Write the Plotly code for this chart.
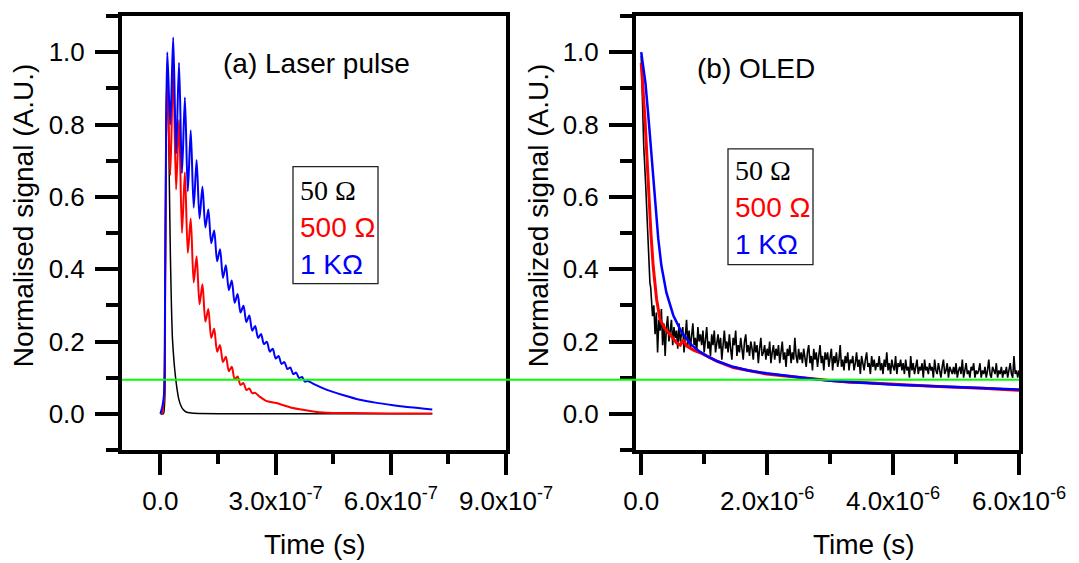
import numpy as np
import plotly.graph_objects as go

# ---------------- Panel (a): laser pulse, time in ns ----------------
black_a_t = [0, 8, 12, 15, 18, 21, 23.5, 26, 28.5, 31, 34, 37, 43, 48, 54, 60, 67, 80, 100, 200, 400, 708]
black_a_y = [0.0, 0.0, 0.25, 0.80, 0.97, 0.83, 0.62, 0.44, 0.31, 0.217, 0.165, 0.126, 0.071, 0.04, 0.021,
             0.011, 0.005, 0.002, 0.001, 0.0, 0.0, 0.0]

red_a_t = [5, 10, 12.5, 15, 18, 25.7, 33.3, 40.9, 48.5, 56.2, 63.8, 71.4, 79.0, 86.7, 94.3, 101.9, 109.5,
           117.2, 124.8, 132.4, 140.0, 147.7, 155.3, 162.9, 170.5, 178.2, 185.8, 193.4, 201.0, 208.7, 216.3,
           223.9, 231.5, 239.2, 246.8, 258, 275, 302, 345, 390, 432, 500, 600, 708]
red_a_y = [0.0, 0.05, 0.35, 0.75, 0.93, 0.66, 0.96, 0.62, 0.813, 0.50, 0.668, 0.445, 0.54, 0.363, 0.436,
           0.303, 0.358, 0.255, 0.290, 0.21, 0.235, 0.172, 0.19, 0.143, 0.158, 0.118, 0.130, 0.096, 0.103,
           0.080, 0.085, 0.066, 0.070, 0.057, 0.058, 0.048, 0.036, 0.030, 0.016, 0.008, 0.003, 0.002, 0.001,
           0.001]

blue_a_t = [0, 5, 9, 12.5, 15, 18, 25.7, 33.3, 40.9, 48.5, 56.2, 63.8, 71.4, 79.0, 86.7, 94.3, 101.9,
            109.5, 117.2, 124.8, 132.4, 140.0, 147.7, 155.3, 162.9, 170.5, 178.2, 185.8, 193.4, 201.0,
            208.7, 216.3, 223.9, 231.5, 239.2, 246.8, 254.4, 262.0, 269.7, 277.3, 284.9, 292.5, 300.2,
            307.8, 315.4, 323.0, 330.7, 338.3, 345.9, 353.5, 361.2, 368.8, 376.4, 384.0, 400, 432, 475,
            519, 560, 606, 650, 708]
blue_a_y = [0.0, 0.02, 0.05, 0.40, 0.80, 1.00, 0.80, 1.041, 0.72, 0.971, 0.665, 0.875, 0.615, 0.784,
            0.57, 0.702, 0.54, 0.628, 0.515, 0.565, 0.472, 0.507, 0.422, 0.455, 0.376, 0.411, 0.342,
            0.369, 0.307, 0.331, 0.280, 0.299, 0.254, 0.272, 0.230, 0.243, 0.210, 0.221, 0.193, 0.199,
            0.172, 0.180, 0.153, 0.160, 0.138, 0.143, 0.124, 0.128, 0.110, 0.114, 0.099, 0.102, 0.089,
            0.091, 0.082, 0.067, 0.052, 0.039, 0.031, 0.024, 0.018, 0.012]

# ---------------- Panel (b): OLED, time in µs ----------------
black_b_head_t = [0, 0.02, 0.04, 0.07, 0.10, 0.12, 0.138, 0.15]
black_b_head_y = [0.99, 0.86, 0.74, 0.636, 0.50, 0.40, 0.363, 0.35]
black_b_tail_start = 0.16   # µs, sampled every 0.02 µs
black_b_tail_step = 0.02
black_b_tail_y = [
    0.33, 0.27, 0.30, 0.22, 0.28, 0.17, 0.26, 0.23, 0.29, 0.19, 0.25, 0.16, 0.24, 0.27, 0.20, 0.23, 0.26, 0.19, 0.24, 0.21,
    0.23, 0.18, 0.25, 0.20, 0.22, 0.24, 0.17, 0.21, 0.26, 0.19, 0.23, 0.18, 0.22, 0.25, 0.19, 0.21, 0.17, 0.24, 0.20, 0.22,
    0.19, 0.23, 0.17, 0.21, 0.24, 0.18, 0.20, 0.16, 0.22, 0.19, 0.23, 0.17, 0.20, 0.22, 0.18, 0.21, 0.15, 0.20, 0.23, 0.18,
    0.20, 0.17, 0.22, 0.18, 0.15, 0.21, 0.19, 0.23, 0.16, 0.19, 0.17, 0.21, 0.18, 0.15, 0.20, 0.22, 0.17, 0.19, 0.16, 0.20,
    0.18, 0.15, 0.20, 0.17, 0.19, 0.14, 0.18, 0.21, 0.16, 0.17, 0.19, 0.15, 0.18, 0.16, 0.20, 0.14, 0.17, 0.19, 0.15, 0.18,
    0.16, 0.19, 0.14, 0.17, 0.20, 0.15, 0.17, 0.13, 0.18, 0.16, 0.19, 0.14, 0.17, 0.15, 0.21, 0.16, 0.14, 0.18, 0.15, 0.17,
    0.14, 0.18, 0.16, 0.13, 0.17, 0.19, 0.14, 0.16, 0.12, 0.18, 0.15, 0.17, 0.13, 0.16, 0.19, 0.14, 0.16, 0.12, 0.17, 0.15,
    0.17, 0.13, 0.15, 0.18, 0.12, 0.16, 0.14, 0.17, 0.13, 0.15, 0.19, 0.13, 0.15, 0.12, 0.16, 0.14, 0.17, 0.12, 0.15, 0.14,
    0.16, 0.12, 0.14, 0.17, 0.13, 0.15, 0.11, 0.16, 0.14, 0.12, 0.15, 0.17, 0.13, 0.14, 0.11, 0.16, 0.13, 0.15, 0.12, 0.14,
    0.13, 0.16, 0.12, 0.14, 0.11, 0.15, 0.13, 0.17, 0.12, 0.14, 0.11, 0.15, 0.13, 0.12, 0.16, 0.11, 0.14, 0.13, 0.15, 0.12,
    0.14, 0.11, 0.15, 0.12, 0.13, 0.10, 0.16, 0.12, 0.14, 0.11, 0.13, 0.15, 0.11, 0.13, 0.12, 0.14, 0.10, 0.15, 0.12, 0.13,
    0.11, 0.14, 0.12, 0.13, 0.10, 0.15, 0.12, 0.11, 0.14, 0.12, 0.10, 0.13, 0.15, 0.11, 0.12, 0.14, 0.10, 0.13, 0.12, 0.11,
    0.13, 0.11, 0.14, 0.10, 0.12, 0.13, 0.11, 0.15, 0.10, 0.12, 0.14, 0.11, 0.12, 0.10, 0.13, 0.12, 0.14, 0.10, 0.12, 0.11,
    0.12, 0.14, 0.10, 0.12, 0.11, 0.13, 0.10, 0.12, 0.15, 0.11, 0.10, 0.13, 0.12, 0.11, 0.14, 0.10, 0.12, 0.11, 0.13, 0.10,
    0.12, 0.11, 0.13, 0.10, 0.12, 0.14, 0.11, 0.10, 0.16, 0.11, 0.12, 0.10, 0.12,
]

red_b_t = [0, 0.03, 0.059, 0.085, 0.11, 0.154, 0.19, 0.244, 0.297, 0.376, 0.48, 0.56, 0.62, 0.667, 0.72,
           0.83, 0.96, 1.2, 1.46, 1.73, 1.99, 2.25, 2.52, 2.78, 3.05, 3.31, 3.58, 3.85, 4.11, 4.37, 4.63,
           4.9, 5.17, 5.43, 5.69, 6.0]
red_b_y = [0.97, 0.90, 0.818, 0.73, 0.636, 0.499, 0.408, 0.317, 0.262, 0.235, 0.215, 0.196, 0.190, 0.205,
           0.188, 0.176, 0.167, 0.146, 0.128, 0.118, 0.110, 0.105, 0.100, 0.097, 0.091, 0.087, 0.086,
           0.083, 0.081, 0.078, 0.076, 0.074, 0.073, 0.071, 0.068, 0.065]

blue_b_t = [0, 0.02, 0.067, 0.11, 0.15, 0.185, 0.22, 0.27, 0.32, 0.40, 0.51, 0.64, 0.80, 0.93, 1.06, 1.2,
            1.46, 1.7, 1.99, 2.25, 2.52, 2.8, 3.05, 3.3, 3.58, 3.85, 4.11, 4.37, 4.63, 4.9, 5.17, 5.43,
            5.69, 6.0]
blue_b_y = [1.0, 0.975, 0.915, 0.83, 0.74, 0.655, 0.575, 0.485, 0.41, 0.335, 0.272, 0.226, 0.19, 0.172,
            0.158, 0.146, 0.130, 0.120, 0.112, 0.106, 0.100, 0.095, 0.091, 0.088, 0.085, 0.082, 0.080,
            0.078, 0.076, 0.074, 0.073, 0.071, 0.069, 0.067]

threshold_level = 0.094
y_ticks = [0.0, 0.2, 0.4, 0.6, 0.8, 1.0]
y_minor = [-0.1, 0.1, 0.3, 0.5, 0.7, 0.9, 1.1]
xa_ticks = [0, 3e-7, 6e-7, 9e-7]
xa_text = ["0.0", "3.0x10<sup>-7</sup>", "6.0x10<sup>-7</sup>", "9.0x10<sup>-7</sup>"]
xa_minor = [1.5e-7, 4.5e-7, 7.5e-7]
xb_ticks = [0, 2e-6, 4e-6, 6e-6]
xb_text = ["0.0", "2.0x10<sup>-6</sup>", "4.0x10<sup>-6</sup>", "6.0x10<sup>-6</sup>"]
xb_minor = [1e-6, 3e-6, 5e-6]

# ---------------- figure ----------------
W, H = 1079, 563
ML, MR, MT, MB = 122, 60, 12, 113
PW, PH = W - ML - MR, H - MT - MB


def px(x):
    return (x - ML) / PW


def py(y):
    return (H - MB - y) / PH


SANS = "Liberation Sans, Arial, sans-serif"
SERIF = "Liberation Serif, Times New Roman, serif"

ns = 1e-9
us = 1e-6
black_b_tail_t = black_b_tail_start + black_b_tail_step * np.arange(len(black_b_tail_y))
black_b_t = np.concatenate([black_b_head_t, black_b_tail_t])
black_b_y = np.concatenate([black_b_head_y, black_b_tail_y])

fig = go.Figure()
fig.add_trace(go.Scatter(x=np.array(black_a_t) * ns, y=black_a_y, mode="lines",
                         line=dict(color="black", width=1.5, shape="spline", smoothing=0.6), xaxis="x", yaxis="y"))
fig.add_trace(go.Scatter(x=np.array(red_a_t) * ns, y=red_a_y, mode="lines",
                         line=dict(color="red", width=2, shape="spline", smoothing=0.8), xaxis="x", yaxis="y"))
fig.add_trace(go.Scatter(x=np.array(blue_a_t) * ns, y=blue_a_y, mode="lines",
                         line=dict(color="blue", width=2, shape="spline", smoothing=0.8), xaxis="x", yaxis="y"))

fig.add_trace(go.Scatter(x=black_b_t * us, y=black_b_y, mode="lines",
                         line=dict(color="black", width=1.6), xaxis="x2", yaxis="y2"))
fig.add_trace(go.Scatter(x=np.array(red_b_t) * us, y=red_b_y, mode="lines",
                         line=dict(color="red", width=3), xaxis="x2", yaxis="y2"))
fig.add_trace(go.Scatter(x=np.array(blue_b_t) * us, y=blue_b_y, mode="lines",
                         line=dict(color="blue", width=2.5), xaxis="x2", yaxis="y2"))

common_axis = dict(showline=True, linewidth=4, linecolor="black", mirror=True, showgrid=False,
                   zeroline=False, ticks="outside", tickwidth=3.5, tickcolor="black",
                   tickfont=dict(family=SANS, size=26, color="black"))

xdom_a = [0, px(506)]
xdom_b = [px(636), 1]

fig.update_layout(
    width=W, height=H, margin=dict(l=ML, r=MR, t=MT, b=MB),
    paper_bgcolor="white", plot_bgcolor="white", showlegend=False,
    xaxis=dict(domain=xdom_a, range=[-1e-7, 9e-7], tickmode="array", tickvals=xa_ticks, ticktext=xa_text,
               ticklen=21, ticklabelstandoff=4, anchor="y",
               minor=dict(tickvals=xa_minor, ticks="outside", ticklen=10, tickwidth=3.5, tickcolor="black"),
               **common_axis),
    yaxis=dict(domain=[0, 1], range=[-0.1, 1.1], tickmode="array", tickvals=y_ticks,
               ticktext=[f"{v:.1f}" for v in y_ticks], ticklen=23, ticklabelstandoff=5, anchor="x",
               minor=dict(tickvals=y_minor, ticks="outside", ticklen=12, tickwidth=3.5, tickcolor="black"),
               **common_axis),
    xaxis2=dict(domain=xdom_b, range=[-0.083e-6, 6e-6], tickmode="array", tickvals=xb_ticks, ticktext=xb_text,
                ticklen=21, ticklabelstandoff=4, anchor="y2",
                minor=dict(tickvals=xb_minor, ticks="outside", ticklen=10, tickwidth=3.5, tickcolor="black"),
                **common_axis),
    yaxis2=dict(domain=[0, 1], range=[-0.1, 1.1], tickmode="array", tickvals=y_ticks,
                ticktext=[f"{v:.1f}" for v in y_ticks], ticklen=23, ticklabelstandoff=5, anchor="x2",
                minor=dict(tickvals=y_minor, ticks="outside", ticklen=12, tickwidth=3.5, tickcolor="black"),
                **common_axis),
)

# green threshold line spanning both panels
fig.add_shape(type="line", xref="paper", yref="y", x0=px(122), x1=px(1019), y0=threshold_level,
              y1=threshold_level, line=dict(color="rgb(0,255,0)", width=2))

# legend boxes
fig.add_shape(type="rect", xref="paper", yref="paper", x0=px(293), x1=px(378), y0=py(282), y1=py(164),
              line=dict(color="#222", width=1.3), fillcolor="rgba(0,0,0,0)")
fig.add_shape(type="rect", xref="paper", yref="paper", x0=px(728), x1=px(813), y0=py(263), y1=py(146),
              line=dict(color="#222", width=1.3), fillcolor="rgba(0,0,0,0)")


def ann(text, x, y, size=28, color="black", family=SANS, xanchor="center", angle=0):
    fig.add_annotation(text=text, x=px(x), y=py(y), xref="paper", yref="paper", showarrow=False,
                       xanchor=xanchor, yanchor="middle", textangle=angle,
                       font=dict(family=family, size=size, color=color))


ann("(a) Laser pulse", 316, 60)
ann("(b) OLED", 756, 65)
ann("Normalised signal (A.U.)", 23, 214, angle=-90)
ann("Normalized signal (A.U.)", 538, 214, angle=-90)
ann("Time (s)", 315, 545)
ann("Time (s)", 864, 545)

for (x0, ys) in [(298, (188, 225, 263)), (733, (168, 205, 243))]:
    ann("50 Ω", x0, ys[0], family=SERIF, xanchor="left")
    ann("500 Ω", x0, ys[1], color="red", xanchor="left")
    ann("1 KΩ", x0, ys[2], color="blue", xanchor="left")

fig.write_html("out.html")
